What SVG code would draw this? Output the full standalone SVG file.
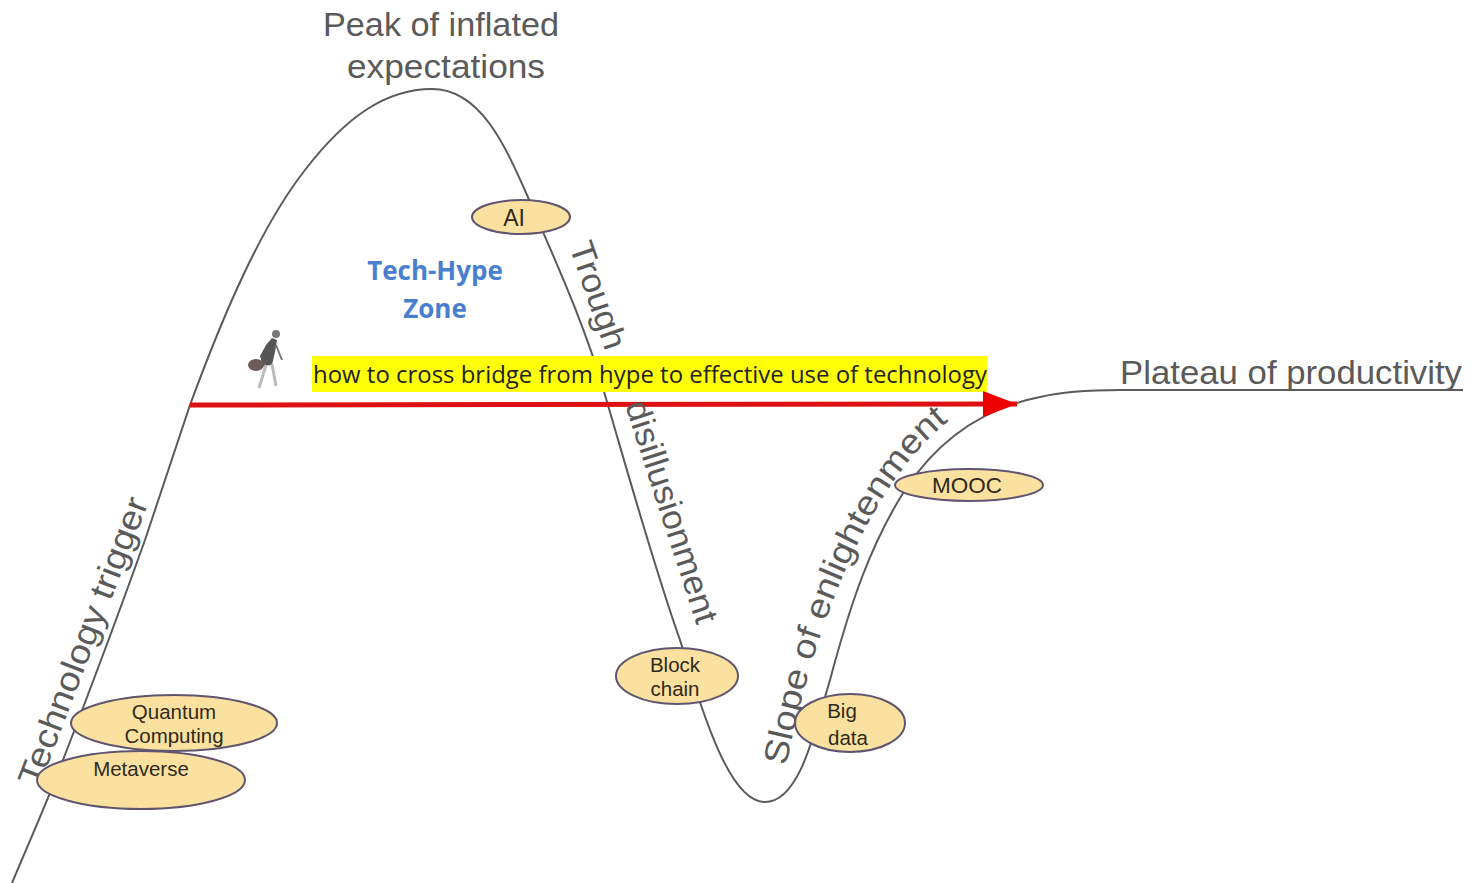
<svg xmlns="http://www.w3.org/2000/svg" width="1481" height="883" viewBox="0 0 1481 883">
<style>
.curve{fill:none;stroke:#5a5a5a;stroke-width:2}
.stage{font-family:"Liberation Sans",Arial,sans-serif;fill:#5a5a5a;font-size:34px}
.oval{fill:#fbe19f;stroke:#5f5570;stroke-width:2}
.lab{font-family:"Liberation Sans",Arial,sans-serif;fill:#2f2a1c;font-size:20.5px;text-anchor:middle}
.zone{font-family:"Open Sans","Liberation Sans",sans-serif;font-weight:700;fill:#4a7fd0;font-size:26px;text-anchor:middle}
</style>
<defs>
<marker id="arrow" markerUnits="userSpaceOnUse" markerWidth="36" markerHeight="30" refX="34" refY="13" orient="auto"><path d="M0 0L34 13L0 26Z" fill="#ee0000"/></marker>
<path id="slopePath" d="M786 766C802 690 824 610 862 535C885 490 912 450 950 420L985 392"/>
</defs>
<rect width="1481" height="883" fill="#fff"/>
<g id="connectors">
<path id="hype-curve" class="curve" d="M12 883C30 840 48 800 63 760C90 690 120 610 145 540C160 495 175 450 190 405C225 310 262 225 305 170C345 118 385 89 432 89C480 89 505 145 527 195C555 260 585 325 605 395C630 480 655 570 680 640C705 720 730 802 765 802C800 802 815 730 830 680C850 605 870 545 905 490C940 437 985 408 1040 397C1065 391 1090 390 1120 390L1463 390"/>
<rect id="highlight" x="312" y="356" width="675" height="36" fill="#ffff0a"/>
<path id="bridge-arrow" d="M190 405L1017 404" fill="none" stroke="#dd1111" stroke-width="5" marker-end="url(#arrow)"/>
</g>
<g id="title-peak"><text class="stage" text-anchor="middle" x="441" y="36" textLength="236" lengthAdjust="spacingAndGlyphs">Peak of inflated</text><text class="stage" text-anchor="middle" x="446" y="78" textLength="198" lengthAdjust="spacingAndGlyphs">expectations</text></g>
<g id="title-trigger"><text class="stage" transform="translate(39 788) rotate(-69)" textLength="306" lengthAdjust="spacingAndGlyphs">Technology trigger</text></g>
<g id="title-trough"><text class="stage" transform="translate(569 246) rotate(71)" textLength="112" lengthAdjust="spacingAndGlyphs">Trough</text></g>
<g id="title-disillusionment"><text class="stage" transform="translate(625 405) rotate(72)" textLength="232" lengthAdjust="spacingAndGlyphs">disillusionment</text></g>
<g id="title-slope"><text class="stage"><textPath href="#slopePath" textLength="388" lengthAdjust="spacingAndGlyphs">Slope of enlightenment</textPath></text></g>
<g id="title-plateau"><text class="stage" x="1120" y="384" textLength="342" lengthAdjust="spacingAndGlyphs">Plateau of productivity</text></g>
<g id="zone"><text class="zone" x="435" y="280">Tech-Hype</text><text class="zone" x="435" y="318">Zone</text></g>
<text id="bridge-label" x="313" y="383" font-family="'Open Sans','Liberation Sans',sans-serif" font-size="24" fill="#222" textLength="674" lengthAdjust="spacingAndGlyphs">how to cross bridge from hype to effective use of technology</text>
<g id="person">
<circle cx="276" cy="334" r="4" fill="#777"/>
<path d="M272 338L266 345L260 356L263 366L272 365L275 352L277 340Z" fill="#555"/>
<path d="M276 345L282 360" stroke="#777" stroke-width="2" fill="none"/>
<path d="M266 365L259 388M272 364L276 386" stroke="#bbb" stroke-width="3" fill="none"/>
<ellipse cx="256" cy="365" rx="8" ry="6" fill="#6d5a5a"/>
</g>
<g id="node-ai"><ellipse class="oval" cx="521" cy="217" rx="49" ry="17"/><text class="lab" x="514" y="226" style="font-size:23px">AI</text></g>
<g id="node-blockchain"><ellipse class="oval" cx="677" cy="676" rx="61" ry="28"/><text class="lab" x="675" y="672">Block</text><text class="lab" x="675" y="696">chain</text></g>
<g id="node-bigdata"><ellipse class="oval" cx="850" cy="723" rx="55" ry="29"/><text class="lab" x="842" y="718">Big</text><text class="lab" x="848" y="745">data</text></g>
<g id="node-mooc"><ellipse class="oval" cx="969" cy="485" rx="74" ry="16"/><text class="lab" x="967" y="493" style="font-size:22.5px">MOOC</text></g>
<g id="node-quantum"><ellipse class="oval" cx="174" cy="723" rx="103" ry="28"/><text class="lab" x="174" y="719">Quantum</text><text class="lab" x="174" y="743">Computing</text></g>
<g id="node-metaverse"><ellipse class="oval" cx="141" cy="780" rx="104" ry="29"/><text class="lab" x="141" y="776">Metaverse</text></g>
</svg>
